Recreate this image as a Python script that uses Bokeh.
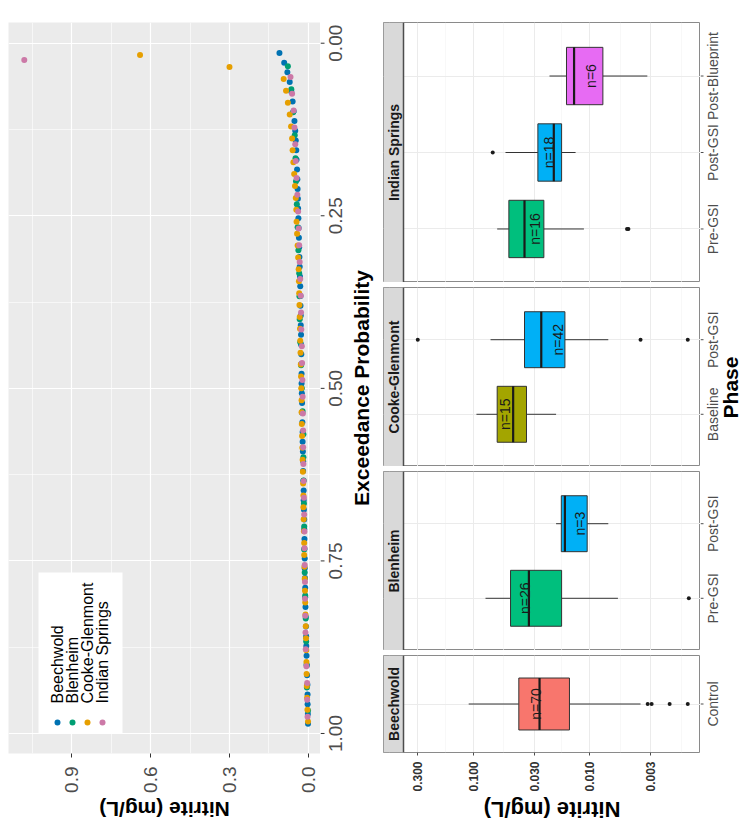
import math
from bokeh.plotting import figure
from bokeh.models import (Range1d, FactorRange, FixedTicker, PrintfTickFormatter,
                          BoxAnnotation, Label, Span, ColumnDataSource)
from bokeh.layouts import row, column
from bokeh.embed import file_html
from bokeh.resources import INLINE
from bokeh.core.properties import value

FONT = "Liberation Sans"

# ---------------- data: exceedance plot (nitrite, mg/L, sorted high -> low) -------------
sites = ["Beechwold", "Blenheim", "Cooke-Glenmont", "Indian Springs"]
site_colors = ["#0072B2", "#009E73", "#E69F00", "#CC79A7"]

beechwold_nitrite = [0.110, 0.092, 0.080, 0.071, 0.065, 0.060, 0.056, 0.053, 0.050, 0.048,
                     0.046, 0.045, 0.043, 0.042, 0.041, 0.040, 0.039, 0.038, 0.037, 0.036,
                     0.035, 0.034, 0.033, 0.032, 0.031, 0.030, 0.030, 0.029, 0.029, 0.028,
                     0.028, 0.027, 0.027, 0.026, 0.026, 0.025, 0.024, 0.024, 0.023, 0.022,
                     0.022, 0.021, 0.020, 0.020, 0.019, 0.018, 0.018, 0.017, 0.016, 0.016,
                     0.015, 0.015, 0.014, 0.014, 0.013, 0.012, 0.012, 0.011, 0.010, 0.009,
                     0.0085, 0.008, 0.007, 0.006, 0.005, 0.0037, 0.0032, 0.0030, 0.0021, 0.0014]
blenheim_nitrite = [0.078, 0.065, 0.058, 0.052, 0.049, 0.047, 0.044, 0.041, 0.038, 0.035,
                    0.034, 0.033, 0.031, 0.028, 0.025, 0.022, 0.019, 0.019, 0.018, 0.017,
                    0.016, 0.016, 0.014, 0.012, 0.010, 0.0085, 0.0069, 0.0057, 0.0014]
cooke_nitrite = [0.64, 0.30, 0.094, 0.085, 0.078, 0.071, 0.066, 0.062, 0.060, 0.057,
                 0.054, 0.051, 0.048, 0.046, 0.045, 0.043, 0.041, 0.039, 0.037, 0.036,
                 0.035, 0.034, 0.033, 0.032, 0.031, 0.030, 0.029, 0.028, 0.027, 0.026,
                 0.026, 0.025, 0.024, 0.023, 0.022, 0.021, 0.020, 0.019, 0.019, 0.018,
                 0.017, 0.016, 0.016, 0.015, 0.014, 0.013, 0.012, 0.011, 0.010, 0.009,
                 0.008, 0.0075, 0.0069, 0.006, 0.005, 0.0037, 0.0014]
indian_nitrite = [1.08, 0.068, 0.062, 0.056, 0.053, 0.050, 0.048, 0.045, 0.042, 0.039,
                  0.037, 0.035, 0.033, 0.031, 0.029, 0.028, 0.027, 0.025, 0.024, 0.023,
                  0.022, 0.021, 0.020, 0.020, 0.019, 0.018, 0.017, 0.016, 0.015, 0.015,
                  0.014, 0.013, 0.013, 0.012, 0.011, 0.010, 0.0077, 0.0048, 0.0047, 0.0032]
site_values = [beechwold_nitrite, blenheim_nitrite, cooke_nitrite, indian_nitrite]

nitrite_ticks = [0.0, 0.3, 0.6, 0.9]
exceed_ticks = [0.0, 0.25, 0.5, 0.75, 1.0]

# ---------------- data: box plots ----------------
box_site = ["Beechwold", "Blenheim", "Blenheim", "Cooke-Glenmont", "Cooke-Glenmont",
            "Indian Springs", "Indian Springs", "Indian Springs"]
box_phase = ["Control", "Pre-GSI", "Post-GSI", "Baseline", "Post-GSI",
             "Pre-GSI", "Post-GSI", "Post-Blueprint"]
box_n = [70, 26, 3, 15, 42, 16, 18, 6]
box_lo = [0.00366, 0.00572, 0.00692, 0.0194, 0.00692, 0.0112, 0.0132, 0.0032]
box_q1 = [0.0149, 0.0174, 0.0105, 0.0348, 0.0163, 0.0247, 0.0174, 0.0077]
box_med = [0.0269, 0.0332, 0.0163, 0.0453, 0.0260, 0.0362, 0.0203, 0.0136]
box_q3 = [0.0405, 0.0477, 0.0175, 0.0621, 0.0362, 0.0493, 0.0278, 0.0158]
box_hi = [0.109, 0.0782, 0.0194, 0.0935, 0.0708, 0.0621, 0.0527, 0.0221]
box_label_at = [0.0286, 0.0355, 0.0120, 0.0537, 0.0187, 0.0297, 0.0225, 0.0098]

out_site = ["Beechwold", "Beechwold", "Beechwold", "Beechwold", "Blenheim",
            "Cooke-Glenmont", "Cooke-Glenmont", "Cooke-Glenmont",
            "Indian Springs", "Indian Springs", "Indian Springs"]
out_phase = ["Control", "Control", "Control", "Control", "Pre-GSI",
             "Post-GSI", "Post-GSI", "Post-GSI",
             "Pre-GSI", "Pre-GSI", "Post-GSI"]
out_value = [0.00318, 0.00294, 0.00206, 0.00144, 0.00141,
             0.298, 0.00366, 0.00144,
             0.00478, 0.00465, 0.0678]

phase_order = ["Control", "Baseline", "Pre-GSI", "Post-GSI", "Post-Blueprint"]
phase_colors = ["#F8766D", "#A3A500", "#00BF7D", "#00B0F6", "#E76BF3"]
facet_order = ["Indian Springs", "Cooke-Glenmont", "Blenheim", "Beechwold"]
facet_phases = {"Indian Springs": ["Pre-GSI", "Post-GSI", "Post-Blueprint"],
                "Cooke-Glenmont": ["Baseline", "Post-GSI"],
                "Blenheim": ["Pre-GSI", "Post-GSI"],
                "Beechwold": ["Control"]}

log_ticks = [0.003, 0.01, 0.03, 0.1, 0.3]

TOP = 22
AX_BOTTOM = 40
TITLE_H = 30


def bare(fig):
    fig.grid.visible = False
    fig.outline_line_color = None
    fig.background_fill_color = "white"
    fig.border_fill_color = "white"
    return fig


# ================= exceedance plot =================
SC_FW, SC_FH = 312, 731
xr = Range1d(1.14, -0.046)
yr = Range1d(1.029, -0.030)
sc = figure(frame_width=SC_FW, frame_height=SC_FH, x_range=xr, y_range=yr,
            x_axis_location="below", y_axis_location=None,
            output_backend="svg", toolbar_location=None,
            min_border_left=8, min_border_top=TOP, min_border_right=0,
            min_border_bottom=AX_BOTTOM,
            background_fill_color="#EBEBEB", border_fill_color="white",
            outline_line_color=None)

for name, vals, col in zip(sites, site_values, site_colors):
    n = len(vals)
    exceed = [(i + 1) / (n + 1) for i in range(n)]
    sc.scatter(x=vals, y=exceed, size=6, fill_color=col, line_color=None)

for g in sc.grid:
    g.grid_line_color = "white"
    g.grid_line_width = 1.2
    g.minor_grid_line_color = "white"
    g.minor_grid_line_width = 0.6

xt = FixedTicker(ticks=nitrite_ticks, minor_ticks=[0.15, 0.45, 0.75, 1.05])
yt = FixedTicker(ticks=exceed_ticks, minor_ticks=[0.125, 0.375, 0.625, 0.875])
sc.xgrid.ticker = xt
sc.ygrid.ticker = yt

xa = sc.xaxis[0]
xa.ticker = xt
xa.axis_line_color = None
xa.major_tick_line_color = "#333333"
xa.major_tick_out = 4
xa.major_tick_in = 0
xa.minor_tick_line_color = None
xa.formatter = PrintfTickFormatter(format="%.1f")
xa.major_label_orientation = math.pi / 2
xa.major_label_text_font = FONT
xa.major_label_text_font_size = "19px"
xa.major_label_text_color = "#4D4D4D"
xa.major_label_standoff = 9

# legend (rotated, inside panel) - layout positions in frame pixels
LEG_L, LEG_R, LEG_B, LEG_T = 30, 114, 20, 181
sc.add_layout(BoxAnnotation(left=LEG_L, right=LEG_R, bottom=LEG_B, top=LEG_T,
                            left_units="screen", right_units="screen",
                            bottom_units="screen", top_units="screen",
                            fill_color="white", fill_alpha=1, line_color=None,
                            level="annotation"))


def sx_to_x(px):
    return xr.start + px / SC_FW * (xr.end - xr.start)


def sy_to_y(px):
    return yr.start + px / SC_FH * (yr.end - yr.start)


key_x = [sx_to_x(49 + 15 * i) for i in range(len(sites))]
key_y = [sy_to_y(31)] * len(sites)
sc.scatter(x=key_x, y=key_y, size=6, fill_color=site_colors, line_color=None, level="overlay")
for i, name in enumerate(sites):
    sc.add_layout(Label(x=49 + 15 * i, y=50, x_units="screen", y_units="screen",
                        text=name, angle=math.pi / 2, text_align="left",
                        text_baseline="middle", text_font=FONT, text_font_size="16px",
                        text_color="black"))

# exceedance axis (ticks, rotated labels, title) in a strip to the right
ex = bare(figure(frame_width=63, frame_height=SC_FH, x_range=Range1d(0, 1), y_range=yr,
                 x_axis_location=None, y_axis_location=None, output_backend="svg",
                 toolbar_location=None, min_border_left=0, min_border_right=0,
                 min_border_top=TOP, min_border_bottom=AX_BOTTOM))
ex.ray(x=[0] * len(exceed_ticks), y=exceed_ticks, length=4, length_units="screen",
       angle=0, line_color="#333333", line_width=1)
ex.text(x=[0] * len(exceed_ticks), y=exceed_ticks, text=["%.2f" % t for t in exceed_ticks],
        x_offset=8, angle=math.pi / 2, text_align="center", text_baseline="top",
        text_font=value(FONT), text_font_size="19px", text_color="#4D4D4D")
ex.add_layout(Label(x=41, y=SC_FH / 2, x_units="screen", y_units="screen",
                    text="Exceedance Probability", angle=math.pi / 2, text_align="center",
                    text_baseline="middle", text_font=FONT, text_font_size="21px",
                    text_font_style="bold", text_color="black"))

nt1 = bare(figure(frame_width=SC_FW, frame_height=TITLE_H, x_range=Range1d(0, 1),
                  y_range=Range1d(0, 1), x_axis_location=None, y_axis_location=None,
                  output_backend="svg", toolbar_location=None, min_border_left=8,
                  min_border_right=0, min_border_top=0, min_border_bottom=0))
nt1.add_layout(Label(x=SC_FW / 2, y=16, x_units="screen", y_units="screen",
                     text="Nitrite (mg/L)", angle=math.pi, text_align="center",
                     text_baseline="middle", text_font=FONT, text_font_size="21px",
                     text_font_style="bold", text_color="black"))

left_block = column(row(sc, ex), nt1)

# ================= box plots (faceted) =================
BX_FW = 317
CAT_W = 19
STRIP_PX = 20
UNIT_PX = 81.2
panel_hi, panel_lo = 0.395, 0.00112
dec_per_px = (math.log10(panel_hi) - math.log10(panel_lo)) / (BX_FW - STRIP_PX)
range_start = 10 ** (math.log10(panel_hi) + STRIP_PX * dec_per_px)
bx_range = Range1d(range_start, panel_lo)

minor_log = [10 ** ((math.log10(a) + math.log10(b)) / 2)
             for a, b in zip(log_ticks[:-1], log_ticks[1:])]
minor_log = [10 ** (2 * math.log10(log_ticks[0]) - math.log10(minor_log[0]))] + minor_log + \
            [10 ** (2 * math.log10(log_ticks[-1]) - math.log10(minor_log[-1]))]

facet_rows = []
for site in facet_order:
    idx = [i for i, s in enumerate(box_site) if s == site]
    phases = facet_phases[site]
    nph = len(phases)
    fh = int(round(UNIT_PX * (nph + 0.2)))
    bottom = site == "Beechwold"
    top = site == facet_order[0]
    fr = FactorRange(factors=phases, range_padding=0.2, range_padding_units="absolute")
    p = figure(frame_width=BX_FW, frame_height=fh, x_range=bx_range, y_range=fr,
               x_axis_type="log", x_axis_location="below" if bottom else None,
               y_axis_location=None, output_backend="svg", toolbar_location=None,
               min_border_left=0, min_border_top=TOP if top else 0,
               min_border_bottom=AX_BOTTOM if bottom else 0, min_border_right=0,
               background_fill_color="white", border_fill_color="white",
               outline_line_color="#8A8A8A", outline_line_width=1)

    src = ColumnDataSource(dict(
        phase=[box_phase[i] for i in idx],
        lo=[box_lo[i] for i in idx], q1=[box_q1[i] for i in idx],
        med=[box_med[i] for i in idx], q3=[box_q3[i] for i in idx],
        hi=[box_hi[i] for i in idx], lab=[box_label_at[i] for i in idx],
        ntxt=["n=%d" % box_n[i] for i in idx],
        color=[phase_colors[phase_order.index(box_phase[i])] for i in idx]))

    p.xgrid.ticker = FixedTicker(ticks=log_ticks, minor_ticks=minor_log)
    p.xgrid.grid_line_color = "#EBEBEB"
    p.xgrid.grid_line_width = 1
    p.xgrid.minor_grid_line_color = "#F3F3F3"
    p.xgrid.minor_grid_line_width = 0.6
    p.ygrid.grid_line_color = "#EBEBEB"
    p.ygrid.grid_line_width = 1

    p.segment(x0="q3", y0="phase", x1="hi", y1="phase", source=src,
              line_color="#333333", line_width=1)
    p.segment(x0="q1", y0="phase", x1="lo", y1="phase", source=src,
              line_color="#333333", line_width=1)
    p.hbar(y="phase", left="q1", right="q3", height=0.75, source=src,
           fill_color="color", line_color="#333333", line_width=1)
    p.rect(x="med", y="phase", width=2.2, width_units="screen", height=0.75,
           source=src, fill_color="#1A1A1A", line_color=None)
    p.text(x="lab", y="phase", text="ntxt", source=src, angle=math.pi / 2,
           text_align="center", text_baseline="middle", text_font=value(FONT),
           text_font_size="14px", text_color="#1A1A1A")

    oidx = [i for i, s in enumerate(out_site) if s == site]
    if oidx:
        p.scatter(x=[out_value[i] for i in oidx], y=[out_phase[i] for i in oidx],
                  size=4, fill_color="#1A1A1A", line_color=None)

    # strip on the left side of the panel
    p.add_layout(BoxAnnotation(left=range_start, right=panel_hi, fill_color="#D9D9D9",
                               fill_alpha=1, line_color="#8A8A8A", line_width=1))
    p.add_layout(Span(location=panel_hi, dimension="height", line_color="#4D4D4D",
                      line_width=1.5))
    p.add_layout(Label(x=STRIP_PX / 2, y=fh / 2, x_units="screen", y_units="screen",
                       text=site, angle=math.pi / 2, text_align="center",
                       text_baseline="middle", text_font=FONT, text_font_size="14px",
                       text_font_style="bold", text_color="#1A1A1A"))

    if bottom:
        bxa = p.xaxis[0]
        bxa.ticker = FixedTicker(ticks=log_ticks, minor_ticks=[])
        bxa.formatter = PrintfTickFormatter(format="%.3f")
        bxa.axis_line_color = None
        bxa.major_tick_line_color = "#4D4D4D"
        bxa.major_tick_out = 3
        bxa.major_tick_in = 0
        bxa.minor_tick_line_color = None
        bxa.major_label_orientation = math.pi / 2
        bxa.major_label_standoff = 6
        bxa.major_label_text_font = FONT
        bxa.major_label_text_font_size = "12px"
        bxa.major_label_text_font_style = "bold"
        bxa.major_label_text_color = "#333333"

    # category axis: ticks + rotated labels in a narrow strip to the right
    cf = bare(figure(frame_width=CAT_W, frame_height=fh, x_range=Range1d(0, 1), y_range=fr,
                     x_axis_location=None, y_axis_location=None, output_backend="svg",
                     toolbar_location=None, min_border_left=0, min_border_right=0,
                     min_border_top=TOP if top else 0,
                     min_border_bottom=AX_BOTTOM if bottom else 0))
    cf.ray(x=[0] * nph, y=phases, length=3, length_units="screen", angle=0,
           line_color="#4D4D4D", line_width=1)
    cf.text(x=[0] * nph, y=phases, text=phases, x_offset=4, angle=math.pi / 2,
            text_align="center", text_baseline="top", text_font=value(FONT),
            text_font_size="14px", text_color="#4D4D4D")
    facet_rows.append(row(p, cf))

nt2 = bare(figure(frame_width=BX_FW + CAT_W, frame_height=TITLE_H, x_range=Range1d(0, 1),
                  y_range=Range1d(0, 1), x_axis_location=None, y_axis_location=None,
                  output_backend="svg", toolbar_location=None, min_border_left=0,
                  min_border_right=0, min_border_top=0, min_border_bottom=0))
nt2.add_layout(Label(x=(STRIP_PX + BX_FW) / 2, y=15, x_units="screen", y_units="screen",
                     text="Nitrite (mg/L)", angle=math.pi, text_align="center",
                     text_baseline="middle", text_font=FONT, text_font_size="22px",
                     text_font_style="bold", text_color="black"))

right_block = column(column(*facet_rows, spacing=5), nt2)

# "Phase" axis title for the faceted plot
PH_H = sum(int(round(UNIT_PX * (len(facet_phases[s]) + 0.2))) for s in facet_order) + 15
ph = bare(figure(frame_width=22, frame_height=PH_H, x_range=Range1d(0, 1),
                 y_range=Range1d(0, 1), x_axis_location=None, y_axis_location=None,
                 output_backend="svg", toolbar_location=None, min_border_left=0,
                 min_border_right=0, min_border_top=TOP, min_border_bottom=0))
ph.add_layout(Label(x=11, y=PH_H / 2, x_units="screen", y_units="screen", text="Phase",
                    angle=math.pi / 2, text_align="center", text_baseline="middle",
                    text_font=FONT, text_font_size="21px", text_font_style="bold",
                    text_color="black"))

layout = row(left_block, right_block, ph)
open("out.html", "w").write(file_html(layout, INLINE, "Nitrite"))
